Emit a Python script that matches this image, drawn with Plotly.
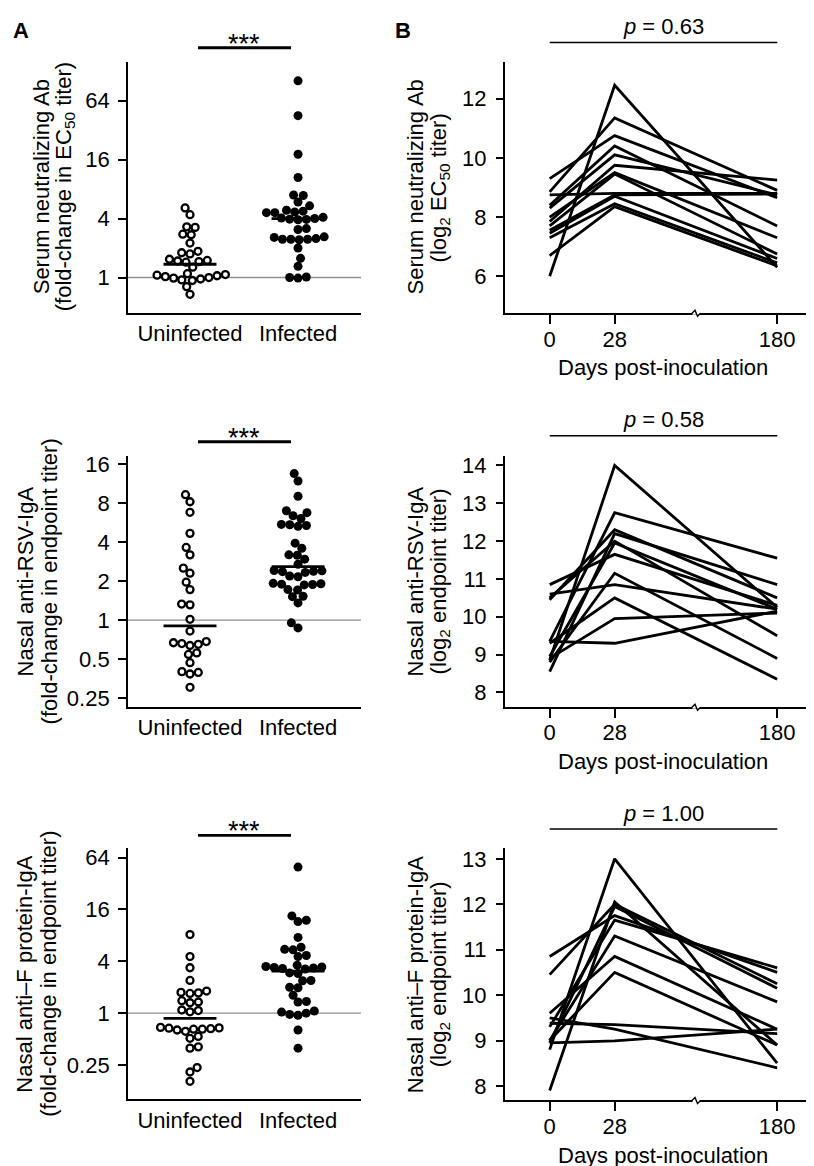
import numpy as np
import plotly.graph_objects as go

# ---------------- data ----------------
groups = ["Uninfected", "Infected"]

# Panel A: fold-change values, stored as log2(fold-change)
serum_uninf_log2fc = [2.36, 2.13, 1.72, 1.70, 1.47, 1.45, 1.17, 0.89, 0.84, 0.80, 0.62, 0.58,
                      0.56, 0.54, 0.52, 0.35, 0.13, 0.10, 0.06, 0.03, 0.0, -0.02, -0.05, -0.08,
                      -0.10, 0.08, -0.31, -0.57]
serum_inf_log2fc = [6.67, 5.49, 4.18, 3.39, 2.80, 2.78, 2.56, 2.43, 2.28, 2.22, 2.20, 2.20, 2.25,
                    2.00, 1.98, 1.97, 1.96, 2.02, 2.04, 1.66, 1.63, 1.38, 1.36, 1.30, 1.30, 1.28,
                    1.32, 1.30, 1.00, 0.65, 0.38, 0.02, -0.02, 0.0]
rsv_uninf_log2fc = [3.21, 3.03, 2.76, 2.22, 1.86, 1.67, 1.33, 1.20, 0.97, 0.78, 0.41, 0.39, 0.02,
                    -0.28, -0.55, -0.58, -0.60, -0.62, -0.65, -0.84, -0.88, -1.09, -1.32, -1.34,
                    -1.38, -1.72]
rsv_inf_log2fc = [3.75, 3.56, 3.17, 2.80, 2.67, 2.60, 2.75, 2.44, 2.42, 2.40, 2.45, 1.97, 1.84,
                  1.67, 1.66, 1.56, 1.43, 1.27, 1.25, 1.24, 1.26, 1.22, 1.13, 1.11, 0.93, 0.92,
                  0.91, 0.90, 0.94, 0.78, 0.77, 0.61, 0.60, 0.44, -0.07, -0.20]
fprot_uninf_log2fc = [3.03, 2.18, 1.75, 1.26, 0.85, 0.80, 0.78, 0.76, 0.48, 0.43, 0.40, 0.12,
                      0.10, 0.05, -0.55, -0.57, -0.58, -0.60, -0.62, -0.62, -0.65, -0.70, -0.90,
                      -0.97, -1.30, -1.35, -2.10, -2.27, -2.63]
fprot_inf_log2fc = [5.63, 3.75, 3.58, 3.53, 2.92, 2.54, 2.44, 2.46, 2.22, 2.18, 1.85, 1.80, 1.78,
                    1.76, 1.74, 1.72, 1.70, 1.55, 1.53, 1.26, 1.25, 1.00, 0.98, 0.69, 0.45, 0.43,
                    0.08, 0.0, -0.05, -0.08, 0.04, -0.65, -1.35]
# horizontal summary bar of each group (log2 fold-change)
serum_center_log2 = [0.45, 2.00]
rsv_center_log2 = [-0.15, 1.37]
fprot_center_log2 = [-0.20, 1.62]

a_tickvals = [[1, 4, 16, 64], [0.25, 0.5, 1, 2, 4, 8, 16], [0.25, 1, 4, 16, 64]]
a_ticktext = [["1", "4", "16", "64"], ["0.25", "0.5", "1", "2", "4", "8", "16"],
              ["0.25", "1", "4", "16", "64"]]
a_titles = [("Serum neutralizing Ab", "(fold-change in EC<sub>50</sub> titer)"),
            ("Nasal anti-RSV-IgA", "(fold-change in endpoint titer)"),
            ("Nasal anti\u2013F protein-IgA", "(fold-change in endpoint titer)")]
sig_labels = ["***", "***", "***"]

# Panel B: per-subject log2 titers at days 0, 28, 180
days = [0, 28, 180]
serum_lines = [
    [6.0, 12.45, 6.3], [8.85, 11.35, 8.9], [9.3, 10.75, 8.65], [8.4, 10.4, 7.7],
    [8.3, 10.1, 8.75], [7.85, 9.75, 9.25], [8.0, 9.5, 7.3], [7.7, 9.45, 6.75],
    [8.75, 8.8, 8.8], [7.55, 8.75, 8.78], [7.45, 8.7, 6.6], [7.3, 8.45, 6.45],
    [6.7, 8.35, 6.35]]
rsv_lines = [
    [8.85, 14.0, 10.25], [9.35, 12.75, 11.55], [10.45, 12.3, 10.5], [8.55, 12.2, 10.85],
    [10.5, 12.0, 9.5], [8.95, 11.95, 10.2], [10.85, 11.65, 10.3], [8.8, 11.15, 8.9],
    [10.6, 10.85, 10.2], [9.3, 10.5, 8.35], [8.9, 9.95, 10.1], [9.35, 9.3, 10.15]]
fprot_lines = [
    [8.8, 13.0, 8.5], [7.9, 12.05, 8.9], [10.45, 12.0, 10.25], [10.85, 11.75, 10.5],
    [9.3, 11.65, 10.6], [8.95, 11.95, 10.15], [9.0, 11.3, 9.85], [9.6, 10.85, 9.25],
    [9.0, 10.5, 8.9], [9.38, 9.35, 9.15], [9.5, 9.25, 8.4], [8.95, 8.99, 9.25]]
b_tickvals = [[6, 8, 10, 12], [8, 9, 10, 11, 12, 13, 14], [8, 9, 10, 11, 12, 13]]
b_titles = [("Serum neutralizing Ab", "(log<sub>2</sub> EC<sub>50</sub> titer)"),
            ("Nasal anti-RSV-IgA", "(log<sub>2</sub> endpoint titer)"),
            ("Nasal anti\u2013F protein-IgA", "(log<sub>2</sub> endpoint titer)")]
p_values = ["0.63", "0.58", "1.00"]
x_title_b = "Days post-inoculation"

# ---------------- layout geometry (page pixels) ----------------
W, H = 814, 1166
FONT = "Liberation Sans, Arial, Helvetica, sans-serif"
FS = 22

A_X = (120, 353)
B_X = (496.7, 814)
A_ROWS = [(50, 303), (446.7, 700), (841.7, 1095)]
B_ROWS = [(50, 303.3), (446.7, 700), (841.7, 1096)]
A_YR = [(-1.20, 7.32), (-2.23, 4.21), (-3.33, 6.37)]   # log2 units
B_YR = [(4.75, 13.25), (7.61, 14.26), (7.68, 13.24)]
A_XR = (-0.574, 1.583)
B_XR = (-0.692, 4.19)


def px_x(p):
    return p / W


def px_y(p):
    return 1 - p / H


def day_pos(d):
    # broken axis: 0-28 linear, 28-180 compressed
    return d / 28 if d <= 28 else 1 + (d - 28) / 152 * 2.5


def swarm(vals, ppu_y, ppu_x, d=8.4):
    y = np.asarray(vals, float) * ppu_y
    order = np.argsort(y, kind="stable")
    px_, py_ = [], []
    xs = np.zeros(len(y))
    for k, i in enumerate(order):
        yi = y[i]
        cands = [0.0]
        for xp, yp in zip(px_, py_):
            dy = abs(yi - yp)
            if dy < d:
                dx = np.sqrt(d * d - dy * dy)
                cands += [xp + dx, xp - dx]
        s = 1 if k % 2 == 0 else -1
        cands.sort(key=lambda c: (round(abs(c), 3), -s * c))
        for c in cands:
            if all((c - xp) ** 2 + (yi - yp) ** 2 >= d * d - 1e-6 for xp, yp in zip(px_, py_)):
                xs[i] = c
                break
        px_.append(xs[i])
        py_.append(yi)
    return xs / ppu_x


fig = go.Figure()
a_data = [(serum_uninf_log2fc, serum_inf_log2fc, serum_center_log2),
          (rsv_uninf_log2fc, rsv_inf_log2fc, rsv_center_log2),
          (fprot_uninf_log2fc, fprot_inf_log2fc, fprot_center_log2)]
b_data = [serum_lines, rsv_lines, fprot_lines]

layout_axes = {}
annotations = []
shapes = []
tfont = dict(family=FONT, size=FS, color="black")

ppu_x_a = (A_X[1] - A_X[0]) / (A_XR[1] - A_XR[0])

for r in range(3):
    # ---------- panel A ----------
    n = r + 1
    xa, ya = ("x", "y") if n == 1 else (f"x{n}", f"y{n}")
    top, bot = A_ROWS[r]
    lo, hi = A_YR[r]
    ppu_y = (bot - top) / (hi - lo)
    uninf, inf, centers = a_data[r]

    fig.add_trace(go.Scatter(x=list(A_XR), y=[1, 1], mode="lines",
                             line=dict(color="#8f8f8f", width=1.4),
                             xaxis=xa, yaxis=ya, showlegend=False, hoverinfo="skip"))
    for gi, vals in enumerate([uninf, inf]):
        xo = swarm(vals, ppu_y, ppu_x_a)
        yv = np.power(2.0, np.asarray(vals))
        if gi == 0:
            mk = dict(size=7, color="white", line=dict(color="black", width=2.3))
        else:
            mk = dict(size=9, color="black", line=dict(width=0))
        fig.add_trace(go.Scatter(x=gi + xo, y=yv, mode="markers", marker=mk,
                                 xaxis=xa, yaxis=ya, showlegend=False, name=groups[gi]))
        c = 2.0 ** centers[gi]
        fig.add_trace(go.Scatter(x=[gi - 0.245, gi + 0.245], y=[c, c], mode="lines",
                                 line=dict(color="black", width=2.8),
                                 xaxis=xa, yaxis=ya, showlegend=False, hoverinfo="skip"))

    layout_axes["xaxis" if n == 1 else f"xaxis{n}"] = dict(
        domain=[px_x(A_X[0]), px_x(A_X[1])], range=list(A_XR), anchor=ya,
        showline=True, linecolor="black", linewidth=1.8, showgrid=False, zeroline=False,
        tickvals=[0, 1], ticktext=groups, ticks="", ticklabelstandoff=0, tickfont=tfont)
    layout_axes["yaxis" if n == 1 else f"yaxis{n}"] = dict(
        domain=[px_y(bot), px_y(top)], type="log",
        range=[lo * np.log10(2), hi * np.log10(2)], anchor=xa,
        showline=True, linecolor="black", linewidth=1.8, showgrid=False, zeroline=False,
        tickvals=a_tickvals[r], ticktext=a_ticktext[r], ticks="outside", ticklen=8,
        tickwidth=1.8, tickcolor="black", ticklabelstandoff=4, tickfont=tfont)

    # significance bar
    sig_y = [36, 432.7, 829][r]
    shapes.append(dict(type="line", xref="paper", yref="paper",
                       x0=px_x(190), x1=px_x(283), y0=px_y(sig_y), y1=px_y(sig_y),
                       line=dict(color="black", width=2.8)))
    annotations.append(dict(x=px_x(236.5), y=px_y(sig_y - 4), xref="paper", yref="paper",
                            text=sig_labels[r], showarrow=False, xanchor="center",
                            yanchor="middle", font=dict(family=FONT, size=27, color="black")))
    # y titles
    ymid = px_y((top + bot) / 2)
    l1x, l2x = [(33, 57), (17, 41), (17, 41)][r]
    for tx, txt in zip((l1x, l2x), a_titles[r]):
        annotations.append(dict(x=px_x(tx), y=ymid, xref="paper", yref="paper", text=txt,
                                textangle=-90, showarrow=False, xanchor="center",
                                yanchor="middle", font=tfont))

    # ---------- panel B ----------
    m = r + 4
    xb, yb = f"x{m}", f"y{m}"
    top, bot = B_ROWS[r]
    xs = [day_pos(d) for d in days]
    for subj in b_data[r]:
        fig.add_trace(go.Scatter(x=xs, y=subj, mode="lines",
                                 line=dict(color="black", width=2.8),
                                 xaxis=xb, yaxis=yb, showlegend=False))
    layout_axes[f"xaxis{m}"] = dict(
        domain=[px_x(B_X[0]), px_x(B_X[1])], range=list(B_XR), anchor=yb,
        showline=True, linecolor="black", linewidth=1.8, showgrid=False, zeroline=False,
        tickvals=xs, ticktext=[str(d) for d in days], ticks="outside", ticklen=9,
        tickwidth=1.8, tickcolor="black", ticklabelstandoff=-4, tickfont=tfont)
    layout_axes[f"yaxis{m}"] = dict(
        domain=[px_y(bot), px_y(top)], range=list(B_YR[r]), anchor=xb,
        showline=True, linecolor="black", linewidth=1.8, showgrid=False, zeroline=False,
        tickvals=b_tickvals[r], ticks="outside", ticklen=7, tickwidth=1.8, tickcolor="black",
        ticklabelstandoff=5, tickfont=tfont)

    # p-value bar
    p_line_y = [30.7, 426.7, 822.7][r]
    shapes.append(dict(type="line", xref="paper", yref="paper",
                       x0=px_x(541.7), x1=px_x(769.3), y0=px_y(p_line_y), y1=px_y(p_line_y),
                       line=dict(color="black", width=1.5)))
    annotations.append(dict(x=px_x(655), y=px_y(p_line_y - 16), xref="paper", yref="paper",
                            text=f"<i>p</i> = {p_values[r]}", showarrow=False, xanchor="center",
                            yanchor="middle", font=tfont))
    # axis break mark
    shapes.append(dict(type="line", xref="paper", yref="paper",
                       x0=px_x(684.5), x1=px_x(692), y0=px_y(bot), y1=px_y(bot),
                       line=dict(color="white", width=3)))
    path = (f"M {px_x(684)} {px_y(bot)} L {px_x(687)} {px_y(bot - 3)} "
            f"L {px_x(689.5)} {px_y(bot + 3)} L {px_x(692.5)} {px_y(bot)}")
    shapes.append(dict(type="path", xref="paper", yref="paper", path=path,
                       line=dict(color="black", width=1.4)))
    # titles
    ymid = px_y((top + bot) / 2)
    for tx, txt in zip((407, 432), b_titles[r]):
        annotations.append(dict(x=px_x(tx), y=ymid, xref="paper", yref="paper", text=txt,
                                textangle=-90, showarrow=False, xanchor="center",
                                yanchor="middle", font=tfont))
    annotations.append(dict(x=px_x(655), y=px_y(bot + 55), xref="paper", yref="paper",
                            text=x_title_b, showarrow=False, xanchor="center", yanchor="middle",
                            font=tfont))

# panel letters
for letter, lx in (("A", 12.5), ("B", 395)):
    annotations.append(dict(x=px_x(lx), y=px_y(19), xref="paper", yref="paper",
                            text=f"<b>{letter}</b>", showarrow=False, xanchor="center",
                            yanchor="middle", font=dict(family=FONT, size=22, color="black")))

fig.update_layout(
    width=W, height=H, autosize=False,
    margin=dict(l=0, r=0, t=0, b=0),
    paper_bgcolor="white", plot_bgcolor="white",
    font=tfont,
    annotations=annotations, shapes=shapes,
    **layout_axes)

fig.write_html("out.html")
